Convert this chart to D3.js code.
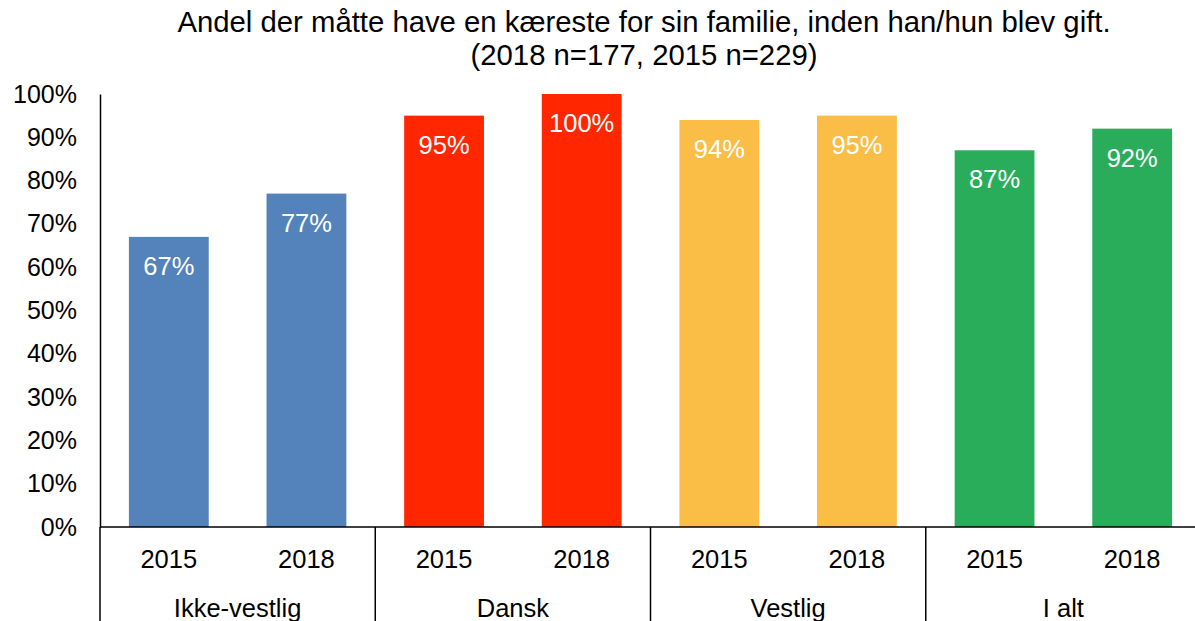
<!DOCTYPE html>
<html>
<head>
<meta charset="utf-8">
<script src="https://cdn.jsdelivr.net/npm/d3@7"></script>
<style>
  body { margin: 0; background: #fff; }
  text { font-family: "Liberation Sans", Arial, sans-serif; }
</style>
</head>
<body>
<script>
const groups = ['Ikke-vestlig', 'Dansk', 'Vestlig', 'I alt'];
const years = ['2015', '2018'];
const values2015 = [0.67, 0.95, 0.94, 0.87];
const values2018 = [0.77, 1.00, 0.95, 0.92];
const groupColors = ['#5483bb', '#ff2600', '#fabd45', '#2aad5b'];
const yTicks = [0, 0.1, 0.2, 0.3, 0.4, 0.5, 0.6, 0.7, 0.8, 0.9, 1.0];

const width = 1195, height = 621;
const margin = { left: 100, right: -6, top: 94, bottom: 94 };

const svg = d3.select('body').append('svg')
  .attr('width', width)
  .attr('height', height);

const x0 = d3.scaleBand()
  .domain(groups)
  .range([margin.left, width - margin.right])
  .padding(0);

const x1 = d3.scaleBand()
  .domain(years)
  .range([0, x0.bandwidth()])
  .paddingInner(0.42)
  .paddingOuter(0.21);

const y = d3.scaleLinear()
  .domain([0, 1])
  .range([height - margin.bottom, margin.top]);

// title, two lines
svg.append('text')
  .attr('x', 644).attr('y', 32)
  .attr('text-anchor', 'middle')
  .attr('font-size', 29.3)
  .text('Andel der måtte have en kæreste for sin familie, inden han/hun blev gift.');
svg.append('text')
  .attr('x', 644).attr('y', 65)
  .attr('text-anchor', 'middle')
  .attr('font-size', 29.3)
  .text('(2018 n=177, 2015 n=229)');

// y axis
const yAxis = svg.append('g')
  .attr('transform', `translate(${margin.left},0)`)
  .call(d3.axisLeft(y).tickValues(yTicks).tickFormat(d3.format('.0%')).tickSize(0).tickPadding(23));
yAxis.select('.domain').attr('stroke', '#000').attr('stroke-width', 1.5);
yAxis.selectAll('text').attr('font-size', 25).attr('fill', '#000')
  .style('font-family', '"Liberation Sans", Arial, sans-serif');

// bars
const rows = groups.map((g, i) => ({ group: g, color: groupColors[i],
  vals: [{ year: '2015', v: values2015[i] }, { year: '2018', v: values2018[i] }] }));

const gg = svg.selectAll('g.grp')
  .data(rows)
  .enter().append('g')
  .attr('class', 'grp')
  .attr('transform', d => `translate(${x0(d.group)},0)`);

gg.selectAll('rect')
  .data(d => d.vals.map(v => ({ ...v, color: d.color })))
  .enter().append('rect')
  .attr('x', d => x1(d.year))
  .attr('y', d => y(d.v))
  .attr('width', x1.bandwidth())
  .attr('height', d => y(0) - y(d.v))
  .attr('fill', d => d.color);

gg.selectAll('text.val')
  .data(d => d.vals)
  .enter().append('text')
  .attr('class', 'val')
  .attr('x', d => x1(d.year) + x1.bandwidth() / 2)
  .attr('y', d => y(d.v) + 38)
  .attr('text-anchor', 'middle')
  .attr('font-size', 25.5)
  .attr('fill', '#fff')
  .text(d => d3.format('.0%')(d.v));

// year labels
gg.selectAll('text.yr')
  .data(years)
  .enter().append('text')
  .attr('class', 'yr')
  .attr('x', d => x1(d) + x1.bandwidth() / 2)
  .attr('y', y(0) + 41)
  .attr('text-anchor', 'middle')
  .attr('font-size', 25.5)
  .text(d => d);

gg.append('text')
  .attr('x', x0.bandwidth() / 2)
  .attr('y', y(0) + 90)
  .attr('text-anchor', 'middle')
  .attr('font-size', 25.5)
  .text(d => d.group);

// x axis line and separators
svg.append('line')
  .attr('x1', margin.left).attr('x2', width)
  .attr('y1', y(0)).attr('y2', y(0))
  .attr('stroke', '#000').attr('stroke-width', 1.5);

svg.selectAll('line.sep')
  .data(groups)
  .enter().append('line')
  .attr('class', 'sep')
  .attr('x1', d => x0(d)).attr('x2', d => x0(d))
  .attr('y1', y(0)).attr('y2', height)
  .attr('stroke', '#000').attr('stroke-width', 1.5);
</script>
</body>
</html>
